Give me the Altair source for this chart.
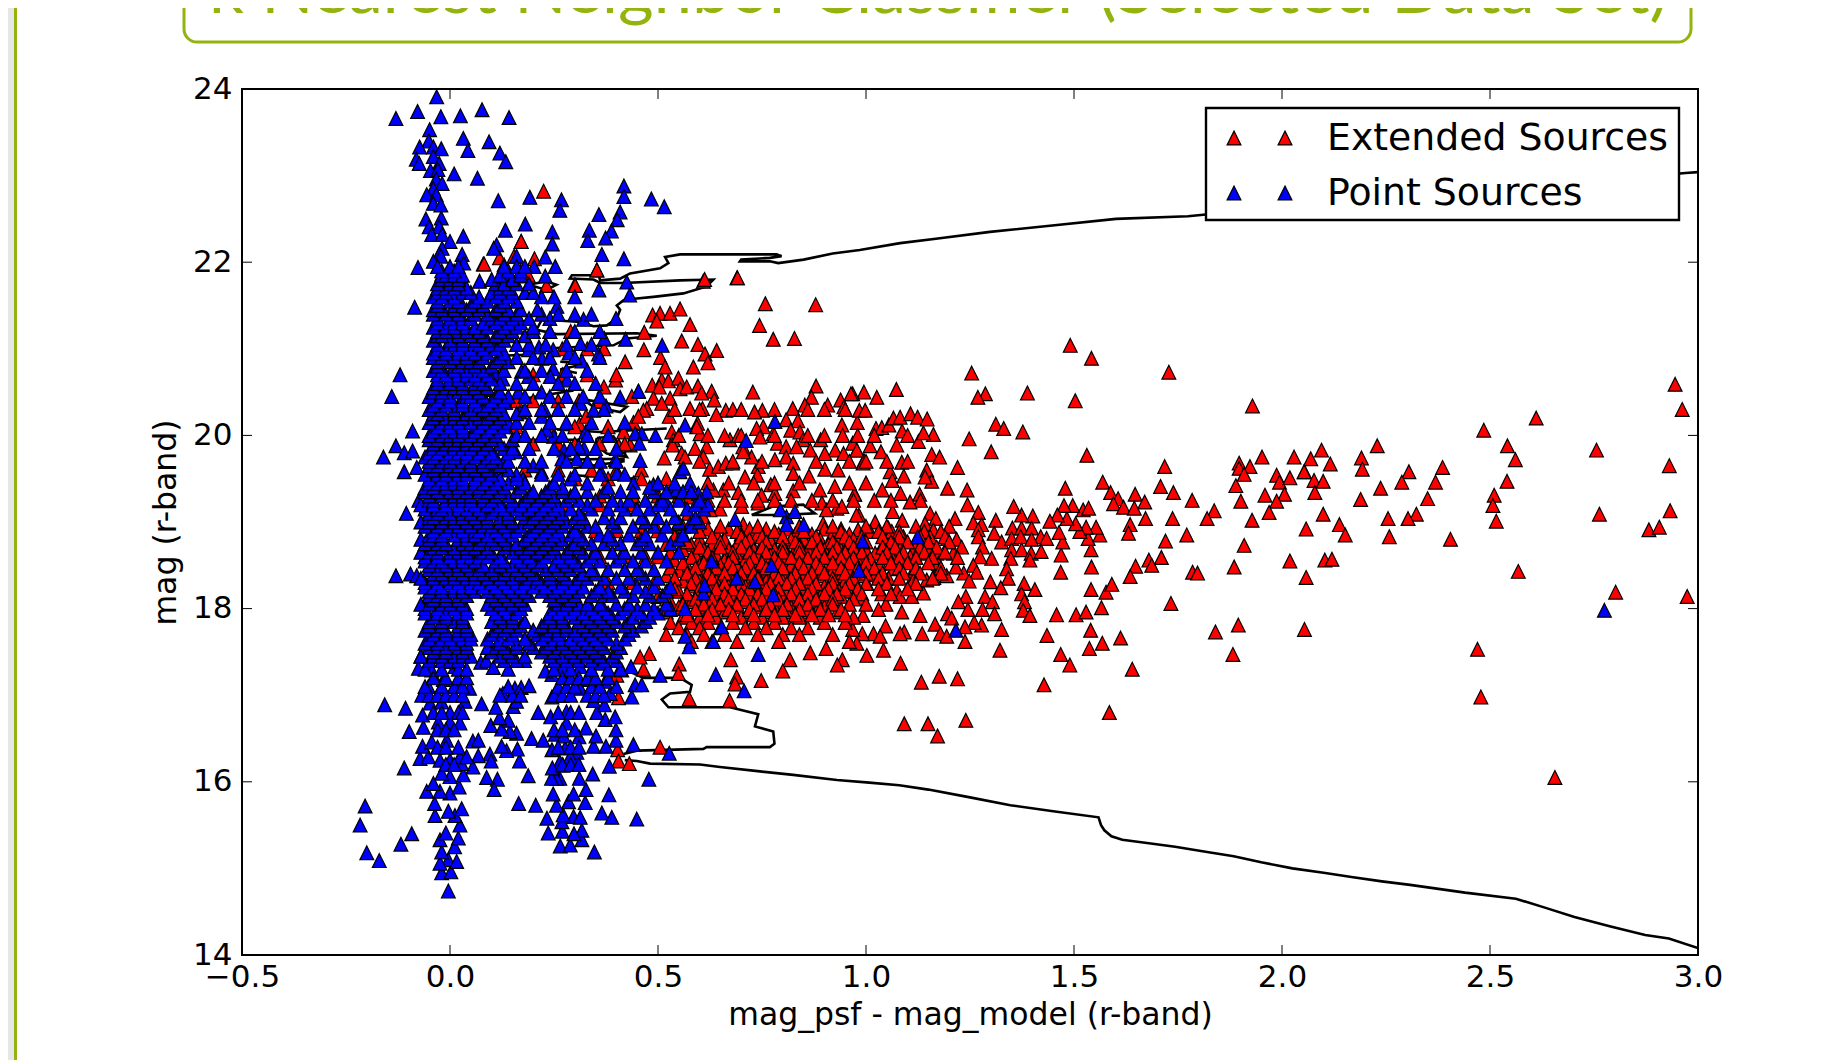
import altair as alt
import pandas as pd

# ---- values (x = mag_psf - mag_model, y = mag) ----
red_sparse = [
(2.945,20.59),(2.962,20.30),(2.611,20.20),(2.485,20.06),(2.542,19.88),(2.561,19.72),(2.756,19.83),(2.931,19.65),
(2.541,19.47),(2.510,19.31),(2.507,19.19),(2.515,19.01),(2.763,19.09),(2.933,19.13),(2.882,18.91),(2.907,18.94),
(2.568,18.43),(2.802,18.19),(2.974,18.14),(2.470,17.53),(2.478,16.98),(2.656,16.05),(2.229,19.88),(2.386,19.63),
(2.095,19.83),(2.069,19.73),(2.116,19.67),(2.191,19.74),(2.193,19.61),(2.054,19.58),(2.077,19.48),(2.099,19.47),
(2.079,19.34),(2.305,19.58),(2.288,19.46),(2.369,19.46),(2.237,19.39),(2.189,19.26),(2.350,19.27),(2.099,19.09),
(2.323,19.09),(2.255,19.04),(2.303,19.04),(2.138,18.97),(2.152,18.85),(2.058,18.92),(2.258,18.83),(2.405,18.80),
(2.103,18.56),(2.120,18.57),(2.058,18.36),(2.054,17.76),
(1.491,21.04),(1.542,20.89),(1.254,20.72),(1.728,20.73),(1.287,20.48),(1.269,20.44),(1.388,20.49),(1.503,20.40),
(1.929,20.34),(1.073,20.53),(0.995,20.50),(1.026,20.44),(0.968,20.48),(1.312,20.13),(1.331,20.08),(1.377,20.04),
(1.248,19.96),(1.301,19.81),(1.531,19.77),(1.220,19.63),(1.718,19.64),(1.897,19.68),(1.897,19.62),(1.923,19.64),
(1.952,19.75),(1.909,19.55),(2.029,19.75),(2.053,19.58),(1.987,19.54),(1.994,19.46),(2.019,19.51),(1.889,19.42),
(1.959,19.31),(2.006,19.32),(1.987,19.24),(1.901,19.24),(1.969,19.11),(1.928,19.02),(1.909,18.73),(2.019,18.55),
(1.885,18.48),(1.733,18.06),(1.895,17.81),(1.840,17.73),(1.882,17.47),(1.569,19.46),(1.588,19.34),(1.479,19.39),
(1.647,19.32),(1.606,19.27),(1.595,19.21),(1.619,19.17),(1.645,19.16),(1.670,19.23),(1.708,19.41),(1.739,19.34),
(1.784,19.25),(1.837,19.13),(1.820,19.04),(1.737,19.04),(1.672,19.04),(1.635,18.97),(1.631,18.87),(1.771,18.85),
(1.720,18.78),(1.710,18.59),(1.680,18.56),(1.687,18.50),(1.648,18.49),(1.635,18.37),(1.785,18.42),(1.797,18.41),
(1.542,18.48),(1.468,18.42),(1.541,18.68),(1.469,18.62),(1.534,18.81),(1.473,18.77),(1.464,18.88),(1.562,18.85),
(1.553,18.94),(1.529,18.94),(1.514,18.89),(1.504,18.98),(1.483,19.04),(1.522,19.14),(1.535,19.16),(1.497,19.19),
(1.476,19.19),(1.460,19.08),(1.442,19.01),(1.401,19.07),(1.374,19.08),(1.355,19.18),(1.312,19.02),(1.270,19.11),
(1.258,18.99),(1.278,18.97),(1.270,18.91),(1.270,18.83),(1.308,18.87),(1.326,18.77),(1.352,18.93),(1.374,18.93),
(1.398,18.93),(1.420,18.83),(1.434,18.81),(1.350,18.81),(1.372,18.83),(1.398,18.80),(1.280,18.71),(1.350,18.68),
(1.374,18.68),(1.397,18.64),(1.421,18.66),(1.302,18.58),(1.274,18.60),(1.348,18.58),(1.394,18.56),(1.258,18.50),
(1.266,18.42),(1.235,18.41),(1.216,18.48),(1.194,18.38),(1.338,18.46),(1.342,18.35),(1.299,18.31),(1.248,18.32),
(1.163,18.36),(1.146,18.33),(1.106,18.29),(1.380,18.29),(1.324,18.24),(1.406,18.22),(1.374,18.17),(1.381,18.08),
(1.378,17.98),(1.394,17.92),(1.286,18.14),(1.240,18.14),(1.222,18.08),(1.304,18.08),(1.245,17.99),(1.280,17.99),
(1.309,17.94),(1.458,17.93),(1.505,17.93),(1.529,17.96),(1.541,18.22),(1.577,18.19),(1.591,18.28),(1.566,18.01),
(1.540,17.75),(1.568,17.60),(1.612,17.66),(1.537,17.54),(1.435,17.69),(1.468,17.47),(1.490,17.35),(1.640,17.30),
(1.428,17.12),(1.585,16.80),(1.322,17.52),(1.326,17.76),(1.278,17.81),(1.260,17.84),(1.196,17.94),(1.206,17.89),
(1.238,17.79),(1.238,17.62),(1.166,17.82),(1.179,17.71),(1.194,17.68),(1.135,17.71),(1.092,17.73),(1.082,17.71),
(1.047,17.80),(1.018,17.71),(0.991,17.71),(1.034,17.68),(0.968,17.76),(0.978,17.60),(1.042,17.52),(1.002,17.46),
(1.083,17.37),(1.133,17.15),(1.176,17.22),(1.220,17.19),(1.240,16.71),(1.149,16.67),(1.092,16.67),(1.172,16.53),
(1.146,19.60),(1.158,19.47),(1.196,19.39),(1.243,19.37),(1.244,19.20),(1.129,19.32),(1.131,19.25),(1.106,19.23),
(1.083,19.33),(1.039,19.37),(0.973,19.32),(1.058,19.58),(1.063,19.48),(1.091,19.53),(1.142,19.52),(1.086,19.69),
(0.995,19.71),(0.993,19.68),(1.036,19.81),(0.978,19.83),(1.010,19.88),(1.074,19.89),(0.968,19.91),(1.158,19.78),
(1.177,19.75),(1.162,20.01),(1.126,19.93),(1.138,20.03),(1.087,20.05),(1.024,20.08),(1.038,20.09),(1.055,20.12),
(1.066,20.20),(1.082,20.21),(1.107,20.25),(1.124,20.21),(1.147,20.19),(0.979,20.15),(0.984,20.29),(0.998,20.29),
(0.983,19.08),(1.064,19.12),(1.022,19.00),(1.087,19.02),(1.154,19.10),(1.168,19.04),(1.214,19.04),(1.142,18.98),
(1.054,18.93),(0.981,18.91),(1.010,18.89),(1.062,18.89),(1.090,18.83),(1.162,18.91),(1.154,18.83),(1.196,18.81),
(1.218,18.80),(0.965,18.71),(1.002,18.66),(1.042,18.75),(1.082,18.69),(1.118,18.71),(1.146,18.71),(1.170,18.64),
(1.210,18.64),(1.022,18.64),(1.062,18.60),(1.106,18.60),(1.126,18.64),(0.985,18.56),(1.010,18.58),(1.034,18.52),
(1.066,18.46),(1.114,18.44),(1.174,18.52),(1.022,18.39),(1.054,18.35),(1.114,18.33),(1.002,18.29),(1.074,18.21),
(1.038,18.17),(0.990,18.12),(0.970,18.25),(1.082,18.14),(1.110,18.14),(1.138,18.18),(1.048,18.05),(0.993,17.92),
(1.086,17.96),(1.130,17.92),
(0.690,21.82),(0.609,21.78),(0.758,21.52),(0.879,21.51),(0.744,21.27),(0.777,21.11),(0.828,21.12),(0.487,21.39),
(0.505,21.41),(0.529,21.41),(0.553,21.46),(0.497,21.32),(0.577,21.28),(0.467,21.19),(0.557,21.09),(0.596,21.05),
(0.641,20.98),(0.613,20.94),(0.620,20.84),(0.585,20.79),(0.466,20.99),(0.506,20.90),(0.517,20.79),(0.421,20.85),
(0.353,21.91),(0.300,21.74),(0.232,21.73),(0.080,21.98),(0.171,22.24),(0.398,20.64),(0.370,20.56),(0.453,20.51),
(0.486,20.58),(0.509,20.64),(0.525,20.63),(0.549,20.66),(0.553,20.54),(0.503,20.56),(0.569,20.56),(0.596,20.57),
(0.629,20.51),(0.605,20.49),(0.489,20.43),(0.529,20.43),(0.509,20.37),(0.437,20.45),(0.635,20.41),(0.728,20.50),
(0.880,20.57),(0.964,20.48),(0.939,20.41),(0.869,20.44),(0.908,20.35),(0.853,20.35),(0.947,20.33),(0.824,20.31),
(0.751,20.29),(0.732,20.27),(0.663,20.29),(0.607,20.31),(0.577,20.31),(0.473,20.31),(0.465,20.29),(0.527,20.22),
(0.640,20.24),(0.808,20.18),(0.836,20.17),(0.753,20.10),(0.737,20.08),(0.777,20.02),(0.819,20.06),(0.841,20.04),
(0.942,20.12),(0.944,20.00),(0.595,20.14),(0.441,20.15),(0.453,20.22),(0.311,20.13),(0.327,20.22),(0.417,20.04),
(0.533,20.04),(0.601,20.02),(0.593,20.10),(0.537,19.95),(0.673,19.95),(0.693,20.00),(0.745,19.98),(0.891,19.95),
(0.849,19.95),(0.787,19.91),(0.808,19.87),(0.833,19.87),(0.866,19.83),(0.926,19.83),(0.901,19.79),(0.946,19.79),
(0.978,19.83),(0.781,19.72),(0.808,19.75),(0.825,19.68),(0.741,19.64),(0.725,19.75),(0.704,19.87),(0.705,19.81),
(0.617,19.87),(0.589,19.85),(0.557,19.79),(0.609,19.75),(0.565,19.75),(0.535,19.89),(0.433,19.89),(0.406,19.88),
(0.515,19.74),(0.624,19.61),(0.645,19.64),(0.663,19.68),(0.679,19.68),(0.709,19.52),(0.739,19.54),(0.771,19.43),
(0.825,19.56),(0.863,19.53),(0.901,19.61),(0.933,19.60),(0.889,19.37),(0.925,19.41),(0.972,19.32),(0.825,19.36),
(0.781,19.33),(0.749,19.31),(0.693,19.34),(0.657,19.37),(0.633,19.37),(0.585,19.31),(0.573,19.29),(0.741,19.22),
(0.701,19.18),(0.649,19.15),(0.625,19.14),(0.609,19.06),(0.573,19.10),(0.894,19.22),(0.930,19.16),(0.942,19.18),
(0.905,19.14),(0.705,18.97),(0.977,19.08),(0.897,18.98),
(0.866,17.49),(0.904,17.54),(0.943,17.41),(0.931,17.35),(0.817,17.41),(0.800,17.28),(0.748,17.17),(0.689,17.21),
(0.685,17.13),(0.675,17.41),(0.672,16.94),(0.575,16.96),(0.551,17.36),(0.549,17.25),(0.465,17.30),(0.479,17.48),
(0.457,17.44),(0.401,17.23),(0.405,16.97),(0.403,16.37),(0.505,16.40),(0.405,16.24),(0.431,16.21),
(0.082,21.98),(0.119,22.05),(0.154,22.07),(0.203,22.04),(0.188,21.85),(0.301,21.73),(0.353,21.91),(0.612,21.80),
(0.691,21.82),(0.225,22.82),(0.171,22.24)]

red_rows = {
18.92:[.62,.67,.72,.76,.81,.85,.90,.94], 18.86:[.55,.64,.70,.74,.79,.83,.87,.92,.96],
18.80:[.60,.66,.72,.77,.82,.85,.89,.93,.97], 18.74:[.52,.58,.63,.69,.75,.80,.84,.88,.91,.95],
18.68:[.56,.61,.67,.71,.73,.78,.83,.86,.90,.94,.98], 18.62:[.59,.64,.69,.74,.77,.81,.85,.89,.93,.96],
18.56:[.54,.62,.66,.71,.76,.80,.83,.87,.91,.95,.98], 18.50:[.57,.60,.65,.69,.73,.78,.82,.86,.90,.93,.97],
18.44:[.55,.63,.67,.72,.75,.79,.84,.88,.92,.96], 18.38:[.52,.58,.61,.66,.70,.74,.77,.81,.85,.89,.94,.98],
18.32:[.56,.60,.64,.68,.72,.76,.80,.83,.87,.91,.95], 18.26:[.53,.59,.62,.67,.71,.75,.78,.82,.86,.90,.93,.97],
18.20:[.55,.61,.65,.69,.73,.77,.81,.85,.88,.92,.96], 18.14:[.50,.57,.60,.64,.68,.72,.76,.80,.84,.89,.94],
18.08:[.53,.58,.63,.67,.71,.75,.79,.83,.87,.91], 18.02:[.55,.60,.65,.69,.74,.78,.82,.85,.90],
17.96:[.52,.57,.62,.66,.72,.77,.81,.86,.88,.93], 17.90:[.56,.60,.64,.70,.75,.80,.84,.89,.97],
17.84:[.53,.58,.62,.68,.73,.78,.90,.95], 17.78:[.55,.60,.65,.71,.76,.82,.86],
17.70:[.52,.57,.61,.66,.74,.80,.84,.92], 17.62:[.58,.63,.69,.79,.96],
19.20:[.28,.36,.44], 19.60:[.18,.26,.34,.40,.46], 19.90:[.12,.20,.26,.30,.36,.42], 20.10:[.10,.16,.24,.30,.38],
20.40:[.10,.16,.20,.26,.31,.36], 20.70:[.12,.20,.27,.33,.40], 21.00:[.27,.33,.37], 21.20:[.20,.24,.29],
18.95:[.56,.65,.74,.84,.92,1.0,1.05,1.12,1.2], 18.89:[.60,.69,.78,.85,.94,1.03,1.08,1.14,1.18],
18.83:[.54,.63,.70,.75,.80,.88,.95,.99,1.04,1.08,1.13,1.19], 18.77:[.57,.65,.71,.76,.83,.87,.92,.96,1.0,1.06,1.10,1.15,1.2],
18.71:[.60,.65,.70,.75,.80,.84,.89,.93,.97,1.04,1.07,1.13,1.17,1.23], 18.65:[.53,.62,.68,.72,.76,.80,.84,.88,.92,.95,.99,1.05,1.09,1.14,1.19],
18.59:[.58,.63,.68,.73,.78,.82,.86,.90,.94,.97,1.04,1.08,1.12,1.16,1.22], 18.53:[.56,.61,.67,.72,.75,.79,.84,.88,.92,.96,1.0,1.06,1.10,1.15],
18.47:[.53,.59,.64,.68,.71,.76,.80,.85,.89,.94,.98,1.02,1.08,1.12,1.18], 18.41:[.57,.62,.66,.70,.73,.78,.83,.87,.90,.95,1.0,1.04,1.09,1.13,1.18],
18.35:[.54,.59,.63,.69,.74,.79,.82,.86,.92,.97,1.03,1.08,1.16], 18.29:[.58,.61,.66,.70,.73,.77,.81,.84,.88,.92,.96,1.0,1.05,1.12],
18.23:[.54,.60,.64,.68,.72,.76,.79,.83,.87,.91,.95,.98,1.03,1.10], 18.17:[.57,.62,.66,.70,.74,.78,.82,.86,.90,.93,.99,1.06],
18.11:[.52,.59,.63,.67,.71,.75,.79,.84,.88,.92,.97], 18.05:[.56,.61,.65,.69,.73,.77,.81,.86,.92,.96,1.0],
17.99:[.53,.59,.63,.67,.72,.76,.80,.84,.89,.94,1.03], 17.93:[.57,.62,.68,.73,.78,.83,.87,.91,.95],
19.25:[.62,.66,.70,.74,.78,.82,.87,.92,.97,1.02,1.06], 19.45:[.62,.67,.73,.78,.84,.96,1.0],
19.70:[.60,.68,.75,.88,.96,1.0,1.05,1.1], 20.00:[.55,.62,.66,.70,.78,.86,.90,.98,1.02,1.1],
20.30:[.54,.60,.68,.70,.78,.86,.90,.95],
18.60:[.36,.42,.47,.50], 18.30:[.38,.44,.49], 18.90:[.35,.40,.46,.50], 19.30:[.36,.44,.50,.55], 19.50:[.30,.38,.46,.52],
}

blue_sparse = [
(2.775,17.98),(1.216,17.75),(1.124,18.83),(0.992,18.78),(0.983,18.44),
(0.639,17.24),(0.707,17.05),(0.741,17.47),(0.653,17.79),(0.633,17.62),(0.575,17.56),(0.565,17.68),(0.565,18.00),
(0.609,18.18),(0.777,18.16),(0.733,18.31),(0.689,18.35),(0.612,18.27),(0.629,18.55),(0.773,18.50),(0.505,17.23),
(0.445,17.12),(0.437,16.98),(0.461,17.12),(0.441,16.43),(0.527,16.33),(0.478,16.03),(0.449,15.57),(0.382,15.85),
(0.365,15.64),(0.389,15.59),(0.347,15.19),(0.343,16.09),(0.383,16.18),
(0.265,15.26),(0.289,15.27),(0.317,15.33),(0.317,15.44),(0.298,15.40),(0.270,15.43),(0.236,15.41),(0.233,15.58),
(0.269,15.54),(0.297,15.60),(0.313,15.59),(0.272,15.62),(0.256,15.73),(0.285,15.77),(0.325,15.76),(0.297,15.86),
(0.248,15.86),(0.327,15.91),(0.311,16.04),(0.264,16.04),(0.256,16.04),(0.244,16.04),(0.304,16.20),(0.264,16.23),
(0.246,16.16),(0.272,16.19),(0.188,16.07),(0.165,15.75),(0.206,15.73),(0.167,16.24),(0.277,16.39),(0.305,16.34),
(0.289,16.29),(0.245,16.37),(0.253,16.55),(0.273,16.53),(0.310,16.52),(0.345,16.41),(0.375,16.41),(0.399,16.48),
(0.399,16.60),(0.351,16.53),(0.327,16.62),(0.373,16.72),(0.397,16.75),(0.353,16.80),(0.280,16.68),(0.242,16.75),
(0.280,16.81),(0.212,16.80),(0.265,17.00),(0.245,16.98),(0.313,17.08),(0.289,17.21),(0.245,17.24),(0.229,17.28),
(0.345,16.94),(0.371,16.89),(0.385,17.02),(0.373,17.16),(0.337,17.18),(0.362,17.37),(0.413,17.29),(0.435,17.33),
(0.289,17.44),(0.272,17.33),(0.313,17.33),(0.162,16.38),(0.136,16.36),(0.124,16.41),(0.096,16.32),(0.099,16.24),
(0.068,16.30),(0.055,16.17),(0.088,16.05),(0.114,16.03),(0.106,15.91),(0.196,16.50),(0.224,16.48),(0.160,16.56),
(0.144,16.58),(0.124,16.61),(0.098,16.65),(0.140,16.71),(0.119,16.74),(0.055,16.47),(0.068,16.48),(0.110,16.86),
(0.152,16.87),(0.076,16.90),(0.160,16.93),(0.127,17.02),(0.156,17.08),(0.171,17.09),(0.190,17.11),(0.074,17.38),
(0.087,17.40),(0.104,17.32),(0.140,17.30),(0.179,17.40),
(-0.004,14.74),(-0.020,14.95),(0.002,14.96),(-0.004,15.10),(0.016,15.08),(-0.024,15.06),(-0.020,15.19),(0.011,15.25),
(0.020,15.35),(-0.024,15.33),(-0.010,15.41),(0.024,15.50),(0.012,15.61),(-0.036,15.61),(-0.004,15.66),(0.028,15.69),
(-0.037,15.75),(0.000,15.87),(-0.056,15.89),(-0.024,15.89),(0.022,15.94),(0.000,16.06),(-0.020,16.10),(0.032,16.08),
(-0.040,15.98),(-0.110,16.16),(-0.072,16.27),(-0.052,16.29),(-0.024,16.25),(0.000,16.25),(0.028,16.21),(-0.066,16.41),
(-0.044,16.46),(-0.008,16.48),(0.024,16.29),(0.040,16.29),(-0.098,16.58),(-0.064,16.63),(-0.028,16.69),(0.000,16.69),
(0.024,16.68),(-0.066,16.77),(0.000,16.80),(-0.107,16.85),(-0.157,16.89),(-0.048,16.91),(-0.020,16.92),(0.036,16.93),
(-0.068,17.00),(-0.052,17.10),(-0.016,17.18),(0.016,17.12),(0.047,17.08),(-0.038,17.21),(-0.076,17.31),(-0.070,17.45),
(-0.044,17.29),(0.012,17.33),(-0.024,17.52),(0.020,17.50),(-0.004,17.39),(-0.092,15.40),(-0.118,15.28),(-0.204,15.72),
(-0.200,15.18),(-0.170,15.09),(-0.216,15.50),
(0.257,21.49),(0.240,21.35),(0.321,21.34),(0.399,21.35),(0.371,21.12),(0.422,21.11),(0.510,21.04),(0.314,21.06),
(0.357,20.94),(0.286,20.95),(0.317,20.86),(0.248,20.99),(0.214,21.02),(0.189,20.99),(0.221,20.89),(0.248,20.77),
(0.281,20.64),(0.241,20.68),(0.189,20.68),(0.172,20.74),(0.127,20.65),(0.108,20.72),(0.164,20.50),(0.220,20.50),
(0.087,20.53),(0.108,20.37),(0.134,20.38),(0.168,20.27),(0.228,20.29),(0.220,20.22),(0.314,20.37),(0.345,20.29),
(0.375,20.34),(0.409,20.44),(0.453,20.51),(0.565,20.12),(0.494,20.00),(0.461,20.02),(0.445,20.02),(0.326,20.04),
(0.249,19.99),(0.232,20.06),(0.322,19.85),(0.309,19.87),(0.274,19.83),(0.269,19.73),(0.305,19.73),(0.158,19.81),
(0.132,20.12),(0.060,20.08),(0.455,19.91),(0.457,19.71),(0.397,19.72),(0.361,19.70),(0.553,19.58),(0.561,19.62),
(0.401,19.56),(0.365,19.56),(0.290,19.50),(0.220,19.58),(0.200,19.65),(0.176,19.50),(0.136,19.64),(0.104,19.58),
(0.060,19.76),(0.024,19.74),(0.781,20.16),(0.712,19.94),(0.809,19.06),(0.794,19.14),(0.829,19.12),(0.685,19.03),
(0.809,18.97),(0.850,18.97),(0.577,19.45),(0.617,19.35),(0.597,19.33),(0.577,18.98),(0.549,18.98),(0.521,19.22),
(0.489,19.43),(0.441,19.45),(0.529,19.35),(0.545,19.37),
(-0.032,23.91),(-0.130,23.66),(-0.078,23.74),(-0.022,23.68),(0.025,23.69),(0.077,23.76),(0.142,23.67),(-0.049,23.53),
(-0.051,23.40),(0.032,23.43),(0.094,23.39),(-0.073,23.33),(-0.040,23.33),(-0.021,23.31),(0.043,23.29),(0.120,23.26),
(-0.081,23.19),(-0.040,23.22),(-0.074,23.14),(-0.026,23.14),(0.134,23.16),(-0.047,23.06),(-0.029,23.07),(0.010,23.02),
(0.066,22.97),(-0.033,22.96),(-0.019,22.91),(-0.040,22.85),(-0.056,22.78),(-0.033,22.78),(-0.040,22.68),(-0.022,22.66),
(0.116,22.71),(0.192,22.75),(0.268,22.72),(0.264,22.60),(0.418,22.88),(0.418,22.76),(0.484,22.73),(0.515,22.64),
(0.358,22.55),(0.409,22.58),(0.402,22.49),(-0.058,22.50),(-0.021,22.51),(-0.050,22.41),(-0.026,22.41),(0.181,22.44),
(0.133,22.37),(0.335,22.37),(0.388,22.36),(-0.044,22.32),(-0.019,22.32),(0.032,22.30),(0.246,22.35),(0.374,22.28),
(0.331,22.25),(0.246,22.21),(0.000,22.24),(0.112,22.20),(0.105,22.16),(-0.019,22.16),(-0.026,22.09),(-0.022,22.07),
(0.029,22.09),(0.033,21.99),(0.160,22.07),(0.229,22.06),(0.365,22.09),(0.418,22.04),(-0.040,22.01),(0.130,21.97),
(0.202,21.95),(0.253,21.95),(-0.077,21.94),(-0.019,21.87),(0.000,21.87),(0.133,21.85),(0.167,21.84),(0.229,21.84),
(0.071,21.78),(0.140,21.72),(0.425,21.77),(0.358,21.68),(0.432,21.62),(0.036,21.70),(-0.022,21.68),
(-0.085,21.48),(-0.12,20.70),(-0.14,20.45),(-0.09,20.05),(-0.13,19.88),(-0.16,19.75),(-0.11,19.80),(-0.09,19.82),
(-0.11,19.58),(-0.08,19.63),(-0.075,19.25),(-0.105,19.10),(-0.13,18.38),(-0.095,18.40),(-0.08,18.38),
]

blue_rows = {
16.2:[-.01,.01,.27,.29,.31], 16.4:[-.03,-.01,.02,.26,.29,.31], 16.6:[-.03,-.01,.01,.25,.27,.30],
16.8:[-.04,-.02,.02,.03,.26,.29,.31], 17.0:[-.05,-.03,-.01,.01,.03,.12,.15,.17,.25,.27,.29,.33,.35,.37],
17.1:[-.06,-.02,.01,.03,.14,.26,.28,.30,.34,.36,.40], 17.2:[-.04,-.01,.02,.04,.27,.29,.31,.33,.35,.38],
17.3:[-.06,-.02,.02,.04,.25,.29,.34,.38,.41], 17.4:[-.05,-.02,0,.02,.13,.16,.25,.28,.31,.34,.37,.40],
17.45:[-.07,-.04,-.02,.01,.03,.05,.12,.15,.18,.24,.27,.30,.33,.36,.39],
17.50:[-.04,-.01,.03,.10,.14,.22,.25,.29,.32,.35,.40],
17.55:[-.05,-.03,-.01,.02,.04,.09,.11,.13,.16,.20,.23,.26,.28,.31,.34,.37,.41],
17.60:[-.06,-.03,.01,.04,.12,.16,.19,.24,.27,.30,.33,.36,.40],
17.65:[-.05,-.02,0,.03,.05,.09,.12,.14,.18,.22,.25,.27,.29,.32,.35,.38,.42],
17.70:[-.04,-.01,.02,.05,.10,.15,.21,.23,.26,.31,.34,.37,.43],
17.75:[-.06,-.03,-.01,.02,.04,.11,.13,.16,.20,.24,.26,.28,.30,.33,.36,.39,.44],
17.80:[-.05,-.02,.02,.04,.12,.14,.17,.22,.25,.28,.32,.35,.38,.42,.46],
17.85:[-.05,-.02,.01,.03,.10,.13,.15,.18,.23,.25,.27,.31,.34,.37,.40,.43,.47],
17.90:[-.04,-.01,.03,.12,.15,.24,.27,.30,.33,.36,.39,.44,.48],
17.95:[-.06,-.03,-.01,.02,.04,.11,.14,.16,.24,.26,.29,.32,.35,.38,.41,.46,.50],
18.00:[-.06,-.03,.01,.04,.10,.13,.17,.25,.27,.30,.34,.37,.42,.45,.49,.53],
18.05:[-.07,-.05,-.02,0,.03,.09,.12,.15,.18,.26,.28,.31,.33,.36,.40,.43,.47,.52],
18.10:[-.04,-.01,.02,.11,.14,.17,.25,.29],
18.15:[-.05,-.03,-.01,.02,.04,.10,.13,.16,.19,.24,.27,.30,.34,.37,.39,.44,.48,.51],
18.20:[-.05,-.02,.01,.03,.06,.09,.12,.15,.18,.22,.25,.28,.31,.35,.38,.42,.47,.52],
18.25:[-.06,-.04,-.02,.01,.03,.05,.08,.11,.14,.17,.20,.23,.26,.29,.32,.36,.41,.45,.49,.53],
18.30:[-.06,-.03,0,.02,.05,.07,.10,.13,.16,.18,.22,.25,.27,.30],
18.35:[-.07,-.04,-.01,.01,.04,.06,.09,.12,.15,.19,.21,.24,.28,.31,.33,.37,.40,.43,.47,.50],
18.40:[-.04,-.02,.01,.03,.06,.08,.11,.13,.17,.20,.24,.27,.32,.35,.46],
18.45:[-.05,-.03,0,.02,.05,.07,.10,.14,.16,.19,.23,.26,.29,.34,.38,.42,.45,.49],
18.50:[-.05,-.01,.02,.04,.08,.12,.15,.18,.21,.25,.28,.31],
18.55:[-.06,-.04,-.02,.01,.03,.06,.11,.13,.17,.20,.22,.27,.30,.33,.36,.40,.44,.47,.52],
18.60:[-.06,-.03,0,.03,.05,.07,.09,.12,.16,.19,.23,.26,.29,.34,.41],
18.65:[-.07,-.05,-.03,0,.02,.04,.08,.10,.15,.18,.21,.24,.28,.32,.35,.39,.42,.46,.50,.55],
18.70:[-.04,-.02,.01,.04,.06,.09,.13,.17,.19,.22,.25,.29,.31],
18.75:[-.06,-.03,-.01,.03,.05,.07,.11,.14,.16,.20,.23,.26,.30,.34,.37,.41,.45,.48,.53],
18.80:[-.07,-.05,-.02,.02,.04,.08,.10,.13,.18,.21,.24,.27,.32,.39,.46,.55],
18.85:[-.05,-.04,-.02,.01,.04,.06,.09,.12,.15,.19,.22,.25,.29,.31,.36,.38,.43,.47,.51,.56],
18.90:[-.04,-.01,.03,.06,.07,.11,.14,.16,.20,.23,.26,.30],
18.95:[-.06,-.03,0,.02,.05,.08,.10,.13,.17,.21,.24,.27,.33,.35,.40,.44,.49,.52,.58],
19.00:[-.07,-.05,-.02,.01,.04,.07,.09,.12,.15,.19,.22,.25,.28,.31,.39,.47,.55,.60],
19.05:[-.05,-.04,-.01,.01,.03,.06,.09,.12,.14,.18,.20,.23,.26,.30,.32,.37,.41,.46,.50,.54,.59],
19.10:[-.05,-.03,0,.03,.05,.08,.10,.14,.17,.21,.24,.27,.31],
19.15:[-.06,-.03,-.02,.02,.04,.07,.11,.13,.16,.19,.22,.25,.29,.34,.38,.42,.45,.48,.53,.57,.61],
19.20:[-.07,-.04,-.01,.02,.06,.09,.12,.15,.17,.20,.23,.26,.33,.41,.50,.59,.62],
19.25:[-.05,-.04,-.01,.01,.03,.05,.08,.10,.15,.18,.21,.24,.28,.31,.35,.39,.43,.47,.51,.55,.60],
19.30:[-.05,-.02,.01,.03,.05,.08,.11,.14,.19,.22,.25,.29],
19.35:[-.06,-.03,0,.02,.04,.07,.09,.12,.16,.20,.23,.27,.30,.33,.37,.41,.44,.49,.52,.56,.58],
19.40:[-.06,-.04,-.01,.02,.05,.07,.10,.13,.17,.24,.27,.38,.48],
19.45:[-.05,-.03,-.01,.01,.03,.06,.08,.11,.14,.18,.25,.33,.50,.54],
19.50:[-.05,-.02,.01,.03,.06,.09,.12,.16], 19.55:[-.06,-.03,-.01,.02,.04,.07,.10,.16,.22,.26,.30,.36,.42],
19.60:[-.04,-.01,.01,.04,.06,.09,.14], 19.65:[-.05,-.03,0,.02,.05,.08,.12],
19.70:[-.05,-.02,0,.03,.05,.08,.10,.13,.14,.18,.22,.28,.33,.40], 19.75:[-.06,-.04,-.01,.01,.04,.06,.09,.11],
19.80:[-.05,-.03,0,.02,.04,.07,.10,.14], 19.85:[-.04,-.02,.01,.03,.05,.08,.13,.15,.19,.25,.29,.35,.40],
19.90:[-.04,-.01,.01,.04,.06,.09,.12], 19.95:[-.05,-.03,0,.02,.04,.07,.10,.15],
20.00:[-.05,-.02,0,.02,.05,.08,.11,.16,.18,.22,.27,.33,.38], 20.05:[-.04,-.01,.01,.03,.06,.09,.12],
20.10:[-.03,0,.03,.07,.10,.13], 20.15:[-.05,-.02,0,.02,.05,.08,.11,.14,.16,.19,.24,.28,.34,.42],
20.20:[-.04,-.01,.01,.03,.07,.09,.12], 20.25:[-.04,-.03,.01,.04,.06,.10,.13,.16],
20.30:[-.05,-.02,.01,.05,.08,.11,.18,.22,.26,.30,.37], 20.35:[-.04,-.01,.02,.03,.07,.09,.12],
20.40:[-.03,0,.03,.06,.10,.13], 20.45:[-.05,-.02,0,.04,.05,.08,.11,.14,.18,.24,.28,.32,.36],
20.50:[-.04,-.02,.02,.04,.07,.12], 20.55:[-.04,-.01,.01,.03,.06,.09],
20.60:[-.03,0,.03,.06,.08,.12,.16,.20,.26,.30,.35], 20.65:[-.03,0,.02,.05,.07,.10],
20.70:[-.03,-.01,.02,.04,.06,.09], 20.75:[-.04,-.02,.01,.04,.08,.13,.18,.22,.28,.33],
20.80:[-.03,.01,.02,.06,.10], 20.85:[-.03,0,.03,.05,.07,.11,.14],
20.90:[-.04,-.02,.01,.04,.08,.12,.16,.20,.24,.30,.36], 20.95:[-.04,-.01,.02,.04,.06,.09,.13],
21.00:[-.03,-.01,.02,.05,.08,.11], 21.05:[-.03,0,.01,.03,.07,.10,.12,.16,.19,.23,.28,.34],
21.10:[-.04,0,.03,.06,.09,.13], 21.15:[-.03,-.02,.02,.05,.08,.11,.14,.18],
21.20:[-.03,-.01,.02,.04,.07,.12,.15,.20,.24,.30,.36], 21.25:[-.04,-.01,.01,.04,.06,.09,.13,.16,.20],
21.30:[-.03,.01,.03,.08,.11,.14,.17], 21.35:[-.03,0,.03,.05,.10,.12,.15,.19],
21.40:[-.04,-.01,.02,.06,.09,.13,.16,.22,.26,.30,.34], 21.45:[-.04,-.02,.01,.04,.07,.11,.14,.17,.21],
21.50:[-.03,.01,.03,.05,.08,.12], 21.55:[-.03,0,.02,.06,.09,.13,.16],
21.60:[-.04,-.02,.01,.07,.11,.14,.22,.25,.30], 21.65:[-.03,-.01,.03,.05,.10,.12,.15,.18,.20],
21.70:[-.03,-.01,.01,.04,.12,.14], 21.75:[-.03,0,.02,.11,.13,.16,.19],
21.80:[-.02,0,.02,.10,.15], 21.85:[-.02,-.01,.01,.03,.12,.17],
21.90:[-.02,.01,.14,.17], 21.95:[-.03,0,.02,.13,.16,.18],
}

contours = [
 [(3.0,23.04),(2.97,23.03),(2.9,23.0),(2.6,22.9),(2.2,22.72),(1.817,22.55),(1.774,22.53),(1.601,22.50),(1.442,22.42),
  (1.298,22.35),(1.168,22.27),(1.082,22.22),(0.985,22.14),(0.92,22.10),(0.85,22.03),(0.789,21.99),(0.769,22.01),(0.697,22.01),
  (0.70,22.03),(0.769,22.05),(0.797,22.07),(0.785,22.09),(0.553,22.09),(0.517,22.06),(0.525,21.99),(0.505,21.93),(0.433,21.87),
  (0.409,21.81),(0.361,21.79),(0.357,21.85),(0.293,21.85),(0.288,21.81),(0.345,21.80),(0.361,21.76),(0.417,21.76),(0.553,21.79),
  (0.633,21.80),(0.617,21.72),(0.561,21.64),(0.489,21.60),(0.449,21.58),(0.417,21.56),(0.401,21.50),(0.409,21.45),(0.401,21.35),
  (0.377,21.27),(0.345,21.26),(0.313,21.31),(0.249,21.33),(0.220,21.33),(0.208,21.22),(0.256,21.17),(0.449,21.18),(0.497,21.15),
  (0.425,21.12),(0.393,21.04),(0.305,21.02),(0.256,21.01),(0.176,20.93),(0.128,20.92)],
 [(0.189,21.74),(0.232,21.78),(0.256,21.74),(0.232,21.68),(0.189,21.74)],
 [(0.265,20.85),(0.329,20.83),(0.265,20.76),(0.305,20.72)],
 [(0.184,20.43),(0.297,20.52)],
 [(0.329,20.41),(0.425,20.33),(0.409,20.27),(0.345,20.33),(0.321,20.41)],
 [(0.257,20.07),(0.361,20.04),(0.521,20.08)],
 [(0.353,19.97),(0.393,19.99),(0.425,19.75),(0.377,19.79),(0.349,19.89),(0.353,19.97)],
 [(0.168,19.95),(0.313,19.95)],
 [(0.281,19.72),(0.417,19.73),(0.417,19.70),(0.297,19.62)],
 [(0.297,19.54),(0.449,19.50)],
 [(0.725,19.08),(0.777,19.18),(0.849,19.20),(0.877,19.10),(0.794,19.08),(0.725,19.08)],
 [(0.433,17.27),(0.465,17.20),(0.553,17.20),(0.581,17.12),(0.577,17.04),(0.529,17.02),(0.509,16.95),(0.525,16.86),(0.673,16.86),
  (0.741,16.78),(0.733,16.64),(0.777,16.58),(0.780,16.44),(0.769,16.40),(0.617,16.40),(0.609,16.38),(0.449,16.36),(0.417,16.32)],
 [(0.42,16.25),(0.449,16.24),(0.481,16.21),(0.601,16.20),(0.649,16.17),(0.745,16.12),(0.825,16.08),(0.930,16.02),(1.008,15.99),
  (1.08,15.96),(1.15,15.91),(1.25,15.82),(1.347,15.73),(1.45,15.66),(1.559,15.59),(1.565,15.50),(1.573,15.44),(1.59,15.37),(1.616,15.33),
  (1.68,15.29),(1.743,15.25),(1.82,15.19),(1.884,15.14),(1.95,15.07),(2.025,15.0),(2.1,14.95),(2.167,14.90),(2.24,14.85),
  (2.308,14.81),(2.44,14.72),(2.562,14.65),(2.63,14.55),(2.703,14.44),(2.79,14.33),(2.873,14.23),(2.93,14.19),(3.0,14.08)],
]

x_ticks = [-0.5,0.0,0.5,1.0,1.5,2.0,2.5,3.0]
y_ticks = [14,16,18,20,22,24]
legend_labels = ["Extended Sources","Point Sources"]
title_text = "k Nearest Neighbor Classifier (Selected Data Set)"
x_title = "mag_psf - mag_model (r-band)"
y_title = "mag (r-band)"

def frame(sparse, rows):
    pts = list(sparse) + [(x, y) for y, xs in rows.items() for x in xs]
    return pd.DataFrame(pts, columns=["x", "y"])

red_df = frame(red_sparse, red_rows)
blue_df = frame(blue_sparse, blue_rows)
line_df = pd.DataFrame([
    {"x": x, "y": y, "seg": i, "o": j}
    for i, seg in enumerate(contours) for j, (x, y) in enumerate(seg)])

xs = alt.Scale(domain=[-0.5, 3.0], nice=False, zero=False)
ys = alt.Scale(domain=[14, 24], nice=False, zero=False)
GREEN = "#93b40f"
TRI = "M0,-1L1,1L-1,1Z"
FONT = "DejaVu Sans"
SIZE = 190
SW = 1.2
blank = alt.Chart(alt.Data(values=[{"a": 1}]))

def panel(x0, x1, y0, y1, **kw):
    return blank.mark_rect(**kw).encode(
        x=alt.value(x0), x2=alt.value(x1), y=alt.value(y0), y2=alt.value(y1))

strip = panel(-234, -228, -81, 971, fill="#e6e6e6")
bar = panel(-228, -225, -81, 971, fill=GREEN)
title_box = panel(-58, 1449, -140, -47, fill="white", stroke=GREEN, strokeWidth=3, cornerRadius=13)
title = blank.mark_text(align="left", baseline="alphabetic", fontSize=68.5, font="Lato", color=GREEN).encode(
    x=alt.value(-33), y=alt.value(-76), text=alt.value(title_text))

base = (alt.Chart(red_df).mark_point(shape=TRI, size=SIZE, filled=True, fill="#ff0000", stroke="black",
                                     strokeWidth=SW, opacity=1)
        .encode(
    x=alt.X("x:Q", scale=xs, title=x_title,
            axis=alt.Axis(values=x_ticks, format=".1f", grid=False, domain=False, ticks=False, labelFontSize=31,
                          labelFont=FONT, labelColor="black", labelPadding=7, titleFont=FONT, titleFontSize=31.5,
                          titleFontWeight="normal", titleColor="black", titlePadding=7, labelOverlap=False,
                          labelFlush=False)),
    y=alt.Y("y:Q", scale=ys, title=y_title,
            axis=alt.Axis(values=y_ticks, format="d", grid=False, domain=False, ticks=False, labelFontSize=31,
                          labelFont=FONT, labelColor="black", labelPadding=10, titleFont=FONT, titleFontSize=31.5,
                          titleFontWeight="normal", titleColor="black", titlePadding=10, labelOverlap=False,
                          labelFlush=False))))

blue = alt.Chart(blue_df).mark_point(shape=TRI, size=SIZE, filled=True, fill="#0000ff", stroke="black",
                                     strokeWidth=SW, opacity=1).encode(
    x=alt.X("x:Q", scale=xs), y=alt.Y("y:Q", scale=ys))

lines = alt.Chart(line_df).mark_line(color="black", strokeWidth=2.6, clip=True).encode(
    x=alt.X("x:Q", scale=xs), y=alt.Y("y:Q", scale=ys),
    detail="seg:N", order="o:Q")

# inward tick marks on all four sides
xt = pd.DataFrame({"x": x_ticks})
yt = pd.DataFrame({"y": y_ticks})
TX, TY = 0.0240, 0.115
ticks = [
    alt.Chart(xt).mark_rule(color="black", strokeWidth=1).encode(
        x=alt.X("x:Q", scale=xs), y=alt.datum(14, scale=ys), y2=alt.datum(14 + TY)),
    alt.Chart(xt).mark_rule(color="black", strokeWidth=1).encode(
        x=alt.X("x:Q", scale=xs), y=alt.datum(24, scale=ys), y2=alt.datum(24 - TY)),
    alt.Chart(yt).mark_rule(color="black", strokeWidth=1).encode(
        y=alt.Y("y:Q", scale=ys), x=alt.datum(-0.5, scale=xs), x2=alt.datum(-0.5 + TX)),
    alt.Chart(yt).mark_rule(color="black", strokeWidth=1).encode(
        y=alt.Y("y:Q", scale=ys), x=alt.datum(3.0, scale=xs), x2=alt.datum(3.0 - TX)),
]

# legend, drawn as in the original: two markers per row
legend_box = panel(964, 1437, 19, 131, fill="white", stroke="black", strokeWidth=2.4)
def lmark(color, px, py):
    return blank.mark_point(shape=TRI, size=SIZE, filled=True, fill=color, stroke="black",
                            strokeWidth=SW, opacity=1).encode(x=alt.value(px), y=alt.value(py))
def ltext(label, py):
    return blank.mark_text(align="left", baseline="middle", fontSize=37.8, font=FONT, color="black").encode(
        x=alt.value(1085), y=alt.value(py), text=alt.value(label))

legend = [legend_box,
          lmark("#ff0000", 992, 49), lmark("#ff0000", 1043, 49), ltext(legend_labels[0], 50),
          lmark("#0000ff", 992, 104), lmark("#0000ff", 1043, 104), ltext(legend_labels[1], 105)]

chart = alt.layer(strip, bar, title_box, title, lines, *ticks, base, blue, *legend).properties(
    width=1456, height=866,
    padding={"left": 234, "top": 81, "right": 136, "bottom": 105},
    autosize=alt.AutoSizeParams(type="none"),
    background="white",
).configure_view(stroke="black", strokeWidth=2)

chart.save("out.html", embed_options={"renderer": "svg", "actions": False})
